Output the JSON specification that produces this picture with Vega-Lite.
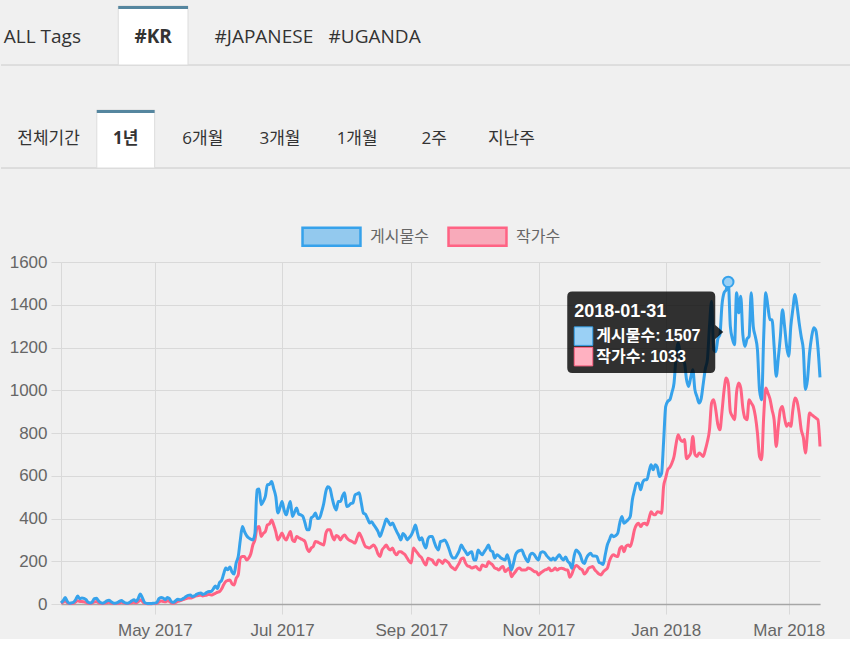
{
  "$schema": "https://vega.github.io/schema/vega-lite/v6.json",
  "background": "#f0f0f0",
  "padding": 0,
  "spacing": 57,
  "resolve": {"legend": {"color": "independent"}},
  "datasets": {
    "tabs1": [{"tab":"ALL Tags"},{"tab":"#KR"},{"tab":"#JAPANESE"},{"tab":"#UGANDA"}],
    "tabs2": [{"tab":"전체기간"},{"tab":"1년"},{"tab":"6개월"},{"tab":"3개월"},{"tab":"1개월"},{"tab":"2주"},{"tab":"지난주"}],
    "daily": [
{"d":"2017-03-17","게시물수":5,"작가수":3},{"d":"2017-03-18","게시물수":15,"작가수":8},{"d":"2017-03-19","게시물수":30,"작가수":15},{"d":"2017-03-20","게시물수":12,"작가수":6},{"d":"2017-03-21","게시물수":3,"작가수":2},{"d":"2017-03-22","게시물수":5,"작가수":2},{"d":"2017-03-23","게시물수":8,"작가수":4},{"d":"2017-03-24","게시물수":20,"작가수":10},{"d":"2017-03-25","게시물수":37,"작가수":15},{"d":"2017-03-26","게시물수":25,"작가수":12},{"d":"2017-03-27","게시물수":28,"작가수":12},{"d":"2017-03-28","게시물수":26,"작가수":10},{"d":"2017-03-29","게시물수":20,"작가수":8},{"d":"2017-03-30","게시물수":8,"작가수":3},{"d":"2017-03-31","게시물수":5,"작가수":2},
{"d":"2017-04-01","게시물수":10,"작가수":5},{"d":"2017-04-02","게시물수":25,"작가수":10},{"d":"2017-04-03","게시물수":27,"작가수":12},{"d":"2017-04-04","게시물수":15,"작가수":6},{"d":"2017-04-05","게시물수":6,"작가수":3},{"d":"2017-04-06","게시물수":4,"작가수":2},{"d":"2017-04-07","게시물수":8,"작가수":4},{"d":"2017-04-08","게시물수":15,"작가수":6},{"d":"2017-04-09","게시물수":18,"작가수":8},{"d":"2017-04-10","게시물수":10,"작가수":4},{"d":"2017-04-11","게시물수":5,"작가수":2},{"d":"2017-04-12","게시물수":4,"작가수":2},{"d":"2017-04-13","게시물수":6,"작가수":3},{"d":"2017-04-14","게시물수":12,"작가수":5},{"d":"2017-04-15","게시물수":16,"작가수":8},{"d":"2017-04-16","게시물수":10,"작가수":5},{"d":"2017-04-17","게시물수":5,"작가수":2},{"d":"2017-04-18","게시물수":4,"작가수":2},{"d":"2017-04-19","게시물수":8,"작가수":4},{"d":"2017-04-20","게시물수":15,"작가수":6},{"d":"2017-04-21","게시물수":20,"작가수":8},{"d":"2017-04-22","게시물수":12,"작가수":5},{"d":"2017-04-23","게시물수":25,"작가수":10},{"d":"2017-04-24","게시물수":47,"작가수":20},{"d":"2017-04-25","게시물수":30,"작가수":12},{"d":"2017-04-26","게시물수":8,"작가수":4},{"d":"2017-04-27","게시물수":3,"작가수":2},{"d":"2017-04-28","게시물수":2,"작가수":1},{"d":"2017-04-29","게시물수":2,"작가수":1},{"d":"2017-04-30","게시물수":3,"작가수":2},
{"d":"2017-05-01","게시물수":4,"작가수":2},{"d":"2017-05-02","게시물수":8,"작가수":4},{"d":"2017-05-03","게시물수":25,"작가수":10},{"d":"2017-05-04","게시물수":30,"작가수":14},{"d":"2017-05-05","게시물수":28,"작가수":12},{"d":"2017-05-06","게시물수":20,"작가수":10},{"d":"2017-05-07","게시물수":30,"작가수":15},{"d":"2017-05-08","게시물수":25,"작가수":12},{"d":"2017-05-09","게시물수":10,"작가수":5},{"d":"2017-05-10","게시물수":8,"작가수":4},{"d":"2017-05-11","게시물수":15,"작가수":8},{"d":"2017-05-12","게시물수":22,"작가수":12},{"d":"2017-05-13","게시물수":20,"작가수":15},{"d":"2017-05-14","게시물수":22,"작가수":18},{"d":"2017-05-15","게시물수":28,"작가수":22},{"d":"2017-05-16","게시물수":35,"작가수":25},{"d":"2017-05-17","게시물수":40,"작가수":28},{"d":"2017-05-18","게시물수":42,"작가수":28},{"d":"2017-05-19","게시물수":35,"작가수":30},{"d":"2017-05-20","게시물수":38,"작가수":35},{"d":"2017-05-21","게시물수":45,"작가수":38},{"d":"2017-05-22","게시물수":50,"작가수":40},{"d":"2017-05-23","게시물수":52,"작가수":42},{"d":"2017-05-24","게시물수":45,"작가수":38},{"d":"2017-05-25","게시물수":48,"작가수":40},{"d":"2017-05-26","게시물수":55,"작가수":42},{"d":"2017-05-27","게시물수":58,"작가수":45},{"d":"2017-05-28","게시물수":58,"작가수":42},{"d":"2017-05-29","게시물수":70,"작가수":45},{"d":"2017-05-30","게시물수":84,"작가수":50},{"d":"2017-05-31","게시물수":72,"작가수":55},
{"d":"2017-06-01","게시물수":100,"작가수":58},{"d":"2017-06-02","게시물수":110,"작가수":70},{"d":"2017-06-03","게시물수":140,"작가수":90},{"d":"2017-06-04","게시물수":168,"작가수":105},{"d":"2017-06-05","게시물수":160,"작가수":110},{"d":"2017-06-06","게시물수":173,"작가수":112},{"d":"2017-06-07","게시물수":150,"작가수":95},{"d":"2017-06-08","게시물수":140,"작가수":89},{"d":"2017-06-09","게시물수":192,"작가수":120},{"d":"2017-06-10","게시물수":222,"작가수":136},{"d":"2017-06-11","게시물수":300,"작가수":215},{"d":"2017-06-12","게시물수":362,"작가수":222},{"d":"2017-06-13","게시물수":339,"작가수":222},{"d":"2017-06-14","게시물수":320,"작가수":206},{"d":"2017-06-15","게시물수":309,"작가수":215},{"d":"2017-06-16","게시물수":304,"작가수":234},{"d":"2017-06-17","게시물수":300,"작가수":276},{"d":"2017-06-18","게시물수":330,"작가수":300},{"d":"2017-06-19","게시물수":534,"작가수":355},{"d":"2017-06-20","게시물수":538,"작가수":362},{"d":"2017-06-21","게시물수":464,"작가수":316},{"d":"2017-06-22","게시물수":480,"작가수":330},{"d":"2017-06-23","게시물수":503,"작가수":339},{"d":"2017-06-24","게시물수":558,"작가수":370},{"d":"2017-06-25","게시물수":560,"작가수":375},{"d":"2017-06-26","게시물수":573,"작가수":393},{"d":"2017-06-27","게시물수":540,"작가수":370},{"d":"2017-06-28","게시물수":503,"작가수":339},{"d":"2017-06-29","게시물수":426,"작가수":300},{"d":"2017-06-30","게시물수":450,"작가수":315},
{"d":"2017-07-01","게시물수":479,"작가수":332},{"d":"2017-07-02","게시물수":440,"작가수":310},{"d":"2017-07-03","게시물수":417,"작가수":300},{"d":"2017-07-04","게시물수":450,"작가수":320},{"d":"2017-07-05","게시물수":479,"작가수":339},{"d":"2017-07-06","게시물수":409,"작가수":300},{"d":"2017-07-07","게시물수":430,"작가수":292},{"d":"2017-07-08","게시물수":449,"작가수":316},{"d":"2017-07-09","게시물수":420,"작가수":310},{"d":"2017-07-10","게시물수":417,"작가수":305},{"d":"2017-07-11","게시물수":410,"작가수":300},{"d":"2017-07-12","게시물수":380,"작가수":292},{"d":"2017-07-13","게시물수":347,"작가수":260},{"d":"2017-07-14","게시물수":347,"작가수":245},{"d":"2017-07-15","게시물수":403,"작가수":262},{"d":"2017-07-16","게시물수":410,"작가수":269},{"d":"2017-07-17","게시물수":426,"작가수":292},{"d":"2017-07-18","게시물수":400,"작가수":290},{"d":"2017-07-19","게시물수":403,"작가수":285},{"d":"2017-07-20","게시물수":432,"작가수":280},{"d":"2017-07-21","게시물수":470,"작가수":276},{"d":"2017-07-22","게시물수":526,"작가수":330},{"d":"2017-07-23","게시물수":548,"작가수":347},{"d":"2017-07-24","게시물수":540,"작가수":347},{"d":"2017-07-25","게시물수":497,"작가수":320},{"d":"2017-07-26","게시물수":460,"작가수":300},{"d":"2017-07-27","게시물수":440,"작가수":320},{"d":"2017-07-28","게시물수":479,"작가수":315},{"d":"2017-07-29","게시물수":479,"작가수":300},{"d":"2017-07-30","게시물수":505,"작가수":315},{"d":"2017-07-31","게시물수":520,"작가수":323},
{"d":"2017-08-01","게시물수":456,"작가수":310},{"d":"2017-08-02","게시물수":460,"작가수":300},{"d":"2017-08-03","게시물수":470,"작가수":295},{"d":"2017-08-04","게시물수":473,"작가수":290},{"d":"2017-08-05","게시물수":510,"작가수":285},{"d":"2017-08-06","게시물수":515,"작가수":310},{"d":"2017-08-07","게시물수":520,"작가수":332},{"d":"2017-08-08","게시물수":473,"작가수":315},{"d":"2017-08-09","게시물수":426,"작가수":290},{"d":"2017-08-10","게시물수":420,"작가수":269},{"d":"2017-08-11","게시물수":400,"작가수":265},{"d":"2017-08-12","게시물수":379,"작가수":262},{"d":"2017-08-13","게시물수":385,"작가수":270},{"d":"2017-08-14","게시물수":370,"작가수":276},{"d":"2017-08-15","게시물수":356,"작가수":262},{"d":"2017-08-16","게시물수":340,"작가수":235},{"d":"2017-08-17","게시물수":316,"작가수":222},{"d":"2017-08-18","게시물수":340,"작가수":253},{"d":"2017-08-19","게시물수":370,"작가수":265},{"d":"2017-08-20","게시물수":398,"작가수":276},{"d":"2017-08-21","게시물수":385,"작가수":260},{"d":"2017-08-22","게시물수":370,"작가수":253},{"d":"2017-08-23","게시물수":379,"작가수":262},{"d":"2017-08-24","게시물수":360,"작가수":240},{"d":"2017-08-25","게시물수":339,"작가수":230},{"d":"2017-08-26","게시물수":320,"작가수":245},{"d":"2017-08-27","게시물수":300,"작가수":245},{"d":"2017-08-28","게시물수":330,"작가수":238},{"d":"2017-08-29","게시물수":320,"작가수":230},{"d":"2017-08-30","게시물수":300,"작가수":215},{"d":"2017-08-31","게시물수":310,"작가수":200},
{"d":"2017-09-01","게시물수":323,"작가수":192},{"d":"2017-09-02","게시물수":345,"작가수":262},{"d":"2017-09-03","게시물수":370,"작가수":250},{"d":"2017-09-04","게시물수":330,"작가수":238},{"d":"2017-09-05","게시물수":300,"작가수":225},{"d":"2017-09-06","게시물수":310,"작가수":215},{"d":"2017-09-07","게시물수":280,"작가수":195},{"d":"2017-09-08","게시물수":262,"작가수":183},{"d":"2017-09-09","게시물수":305,"작가수":214},{"d":"2017-09-10","게시물수":316,"작가수":210},{"d":"2017-09-11","게시물수":316,"작가수":206},{"d":"2017-09-12","게시물수":290,"작가수":190},{"d":"2017-09-13","게시물수":265,"작가수":183},{"d":"2017-09-14","게시물수":253,"작가수":206},{"d":"2017-09-15","게시물수":292,"작가수":200},{"d":"2017-09-16","게시물수":295,"작가수":190},{"d":"2017-09-17","게시물수":300,"작가수":206},{"d":"2017-09-18","게시물수":285,"작가수":200},{"d":"2017-09-19","게시물수":260,"작가수":191},{"d":"2017-09-20","게시물수":230,"작가수":175},{"d":"2017-09-21","게시물수":215,"작가수":168},{"d":"2017-09-22","게시물수":215,"작가수":160},{"d":"2017-09-23","게시물수":230,"작가수":175},{"d":"2017-09-24","게시물수":250,"작가수":191},{"d":"2017-09-25","게시물수":276,"작가수":212},{"d":"2017-09-26","게시물수":260,"작가수":215},{"d":"2017-09-27","게시물수":245,"작가수":191},{"d":"2017-09-28","게시물수":230,"작가수":178},{"d":"2017-09-29","게시물수":240,"작가수":175},{"d":"2017-09-30","게시물수":245,"작가수":168},
{"d":"2017-10-01","게시물수":206,"작가수":172},{"d":"2017-10-02","게시물수":206,"작가수":175},{"d":"2017-10-03","게시물수":253,"작가수":165},{"d":"2017-10-04","게시물수":240,"작가수":159},{"d":"2017-10-05","게시물수":230,"작가수":183},{"d":"2017-10-06","게시물수":245,"작가수":178},{"d":"2017-10-07","게시물수":260,"작가수":175},{"d":"2017-10-08","게시물수":276,"작가수":198},{"d":"2017-10-09","게시물수":250,"작가수":190},{"d":"2017-10-10","게시물수":245,"작가수":183},{"d":"2017-10-11","게시물수":215,"작가수":168},{"d":"2017-10-12","게시물수":230,"작가수":165},{"d":"2017-10-13","게시물수":225,"작가수":159},{"d":"2017-10-14","게시물수":215,"작가수":170},{"d":"2017-10-15","게시물수":210,"작가수":175},{"d":"2017-10-16","게시물수":206,"작가수":152},{"d":"2017-10-17","게시물수":230,"작가수":160},{"d":"2017-10-18","게시물수":200,"작가수":168},{"d":"2017-10-19","게시물수":159,"작가수":128},{"d":"2017-10-20","게시물수":190,"작가수":140},{"d":"2017-10-21","게시물수":230,"작가수":152},{"d":"2017-10-22","게시물수":245,"작가수":165},{"d":"2017-10-23","게시물수":250,"작가수":168},{"d":"2017-10-24","게시물수":253,"작가수":159},{"d":"2017-10-25","게시물수":230,"작가수":159},{"d":"2017-10-26","게시물수":210,"작가수":160},{"d":"2017-10-27","게시물수":198,"작가수":168},{"d":"2017-10-28","게시물수":230,"작가수":165},{"d":"2017-10-29","게시물수":237,"작가수":159},{"d":"2017-10-30","게시물수":230,"작가수":152},{"d":"2017-10-31","게시물수":215,"작가수":150},
{"d":"2017-11-01","게시물수":206,"작가수":136},{"d":"2017-11-02","게시물수":240,"작가수":145},{"d":"2017-11-03","게시물수":245,"작가수":152},{"d":"2017-11-04","게시물수":240,"작가수":159},{"d":"2017-11-05","게시물수":225,"작가수":162},{"d":"2017-11-06","게시물수":215,"작가수":168},{"d":"2017-11-07","게시물수":206,"작가수":155},{"d":"2017-11-08","게시물수":215,"작가수":159},{"d":"2017-11-09","게시물수":206,"작가수":168},{"d":"2017-11-10","게시물수":220,"작가수":159},{"d":"2017-11-11","게시물수":230,"작가수":165},{"d":"2017-11-12","게시물수":215,"작가수":167},{"d":"2017-11-13","게시물수":206,"작가수":165},{"d":"2017-11-14","게시물수":220,"작가수":160},{"d":"2017-11-15","게시물수":200,"작가수":159},{"d":"2017-11-16","게시물수":190,"작가수":125},{"d":"2017-11-17","게시물수":167,"작가수":140},{"d":"2017-11-18","게시물수":220,"작가수":167},{"d":"2017-11-19","게시물수":253,"작가수":180},{"d":"2017-11-20","게시물수":245,"작가수":175},{"d":"2017-11-21","게시물수":230,"작가수":165},{"d":"2017-11-22","게시물수":200,"작가수":159},{"d":"2017-11-23","게시물수":190,"작가수":140},{"d":"2017-11-24","게시물수":215,"작가수":150},{"d":"2017-11-25","게시물수":230,"작가수":167},{"d":"2017-11-26","게시물수":237,"작가수":172},{"d":"2017-11-27","게시물수":225,"작가수":175},{"d":"2017-11-28","게시물수":225,"작가수":160},{"d":"2017-11-29","게시물수":222,"작가수":150},{"d":"2017-11-30","게시물수":195,"작가수":140},
{"d":"2017-12-01","게시물수":191,"작가수":136},{"d":"2017-12-02","게시물수":185,"작가수":150},{"d":"2017-12-03","게시물수":230,"작가수":159},{"d":"2017-12-04","게시물수":276,"작가수":167},{"d":"2017-12-05","게시물수":300,"작가수":200},{"d":"2017-12-06","게시물수":323,"작가수":222},{"d":"2017-12-07","게시물수":315,"작가수":230},{"d":"2017-12-08","게시물수":320,"작가수":225},{"d":"2017-12-09","게시물수":331,"작가수":222},{"d":"2017-12-10","게시물수":380,"작가수":260},{"d":"2017-12-11","게시물수":409,"작가수":269},{"d":"2017-12-12","게시물수":378,"작가수":245},{"d":"2017-12-13","게시물수":385,"작가수":270},{"d":"2017-12-14","게시물수":395,"작가수":276},{"d":"2017-12-15","게시물수":409,"작가수":269},{"d":"2017-12-16","게시물수":487,"작가수":300},{"d":"2017-12-17","게시물수":530,"작가수":347},{"d":"2017-12-18","게시물수":565,"작가수":370},{"d":"2017-12-19","게시물수":565,"작가수":378},{"d":"2017-12-20","게시물수":534,"작가수":362},{"d":"2017-12-21","게시물수":570,"작가수":375},{"d":"2017-12-22","게시물수":581,"작가수":378},{"d":"2017-12-23","게시물수":581,"작가수":370},{"d":"2017-12-24","게시물수":620,"작가수":400},{"d":"2017-12-25","게시물수":651,"작가수":432},{"d":"2017-12-26","게시물수":628,"작가수":420},{"d":"2017-12-27","게시물수":651,"작가수":417},{"d":"2017-12-28","게시물수":640,"작가수":432},{"d":"2017-12-29","게시물수":596,"작가수":430},{"d":"2017-12-30","게시물수":610,"작가수":424},{"d":"2017-12-31","게시물수":760,"작가수":550},
{"d":"2018-01-01","게시물수":924,"작가수":590},{"d":"2018-01-02","게시물수":948,"작가수":628},{"d":"2018-01-03","게시물수":956,"작가수":640},{"d":"2018-01-04","게시물수":990,"작가수":660},{"d":"2018-01-05","게시물수":1034,"작가수":690},{"d":"2018-01-06","게시물수":1160,"작가수":750},{"d":"2018-01-07","게시물수":1221,"작가수":792},{"d":"2018-01-08","게시물수":1175,"작가수":770},{"d":"2018-01-09","게시물수":1140,"작가수":760},{"d":"2018-01-10","게시물수":1128,"작가수":770},{"d":"2018-01-11","게시물수":1049,"작가수":680},{"d":"2018-01-12","게시물수":1018,"작가수":690},{"d":"2018-01-13","게시물수":1060,"작가수":706},{"d":"2018-01-14","게시물수":1096,"작가수":784},{"d":"2018-01-15","게시물수":1003,"작가수":700},{"d":"2018-01-16","게시물수":970,"작가수":690},{"d":"2018-01-17","게시물수":940,"작가수":706},{"d":"2018-01-18","게시물수":960,"작가수":700},{"d":"2018-01-19","게시물수":1030,"작가수":690},{"d":"2018-01-20","게시물수":1100,"작가수":721},{"d":"2018-01-21","게시물수":1143,"작가수":760},{"d":"2018-01-22","게시물수":1300,"작가수":815},{"d":"2018-01-23","게시물수":1416,"작가수":940},{"d":"2018-01-24","게시물수":1190,"작가수":956},{"d":"2018-01-25","게시물수":1180,"작가수":909},{"d":"2018-01-26","게시물수":1240,"작가수":840},{"d":"2018-01-27","게시물수":1260,"작가수":815},{"d":"2018-01-28","게시물수":1400,"작가수":900},{"d":"2018-01-29","게시물수":1456,"작가수":1000},{"d":"2018-01-30","게시물수":1470,"작가수":1057},{"d":"2018-01-31","게시물수":1507,"작가수":1033},
{"d":"2018-02-01","게시물수":1299,"작가수":900},{"d":"2018-02-02","게시물수":1240,"작가수":878},{"d":"2018-02-03","게시물수":1213,"작가수":862},{"d":"2018-02-04","게시물수":1456,"작가수":990},{"d":"2018-02-05","게시물수":1362,"작가수":1034},{"d":"2018-02-06","게시물수":1440,"작가수":1010},{"d":"2018-02-07","게시물수":1260,"작가수":917},{"d":"2018-02-08","게시물수":1205,"작가수":870},{"d":"2018-02-09","게시물수":1240,"작가수":862},{"d":"2018-02-10","게시물수":1252,"작가수":956},{"d":"2018-02-11","게시물수":1456,"작가수":940},{"d":"2018-02-12","게시물수":1299,"작가수":924},{"d":"2018-02-13","게시물수":1250,"작가수":878},{"d":"2018-02-14","게시물수":1190,"작가수":800},{"d":"2018-02-15","게시물수":1000,"작가수":690},{"d":"2018-02-16","게시물수":956,"작가수":675},{"d":"2018-02-17","게시물수":1252,"작가수":878},{"d":"2018-02-18","게시물수":1456,"작가수":1011},{"d":"2018-02-19","게시물수":1393,"작가수":987},{"d":"2018-02-20","게시물수":1330,"작가수":960},{"d":"2018-02-21","게시물수":1330,"작가수":909},{"d":"2018-02-22","게시물수":1205,"작가수":862},{"d":"2018-02-23","게시물수":1065,"작가수":737},{"d":"2018-02-24","게시물수":1150,"작가수":830},{"d":"2018-02-25","게시물수":1252,"작가수":909},{"d":"2018-02-26","게시물수":1377,"작가수":924},{"d":"2018-02-27","게시물수":1300,"작가수":870},{"d":"2018-02-28","게시물수":1205,"작가수":831},
{"d":"2018-03-01","게시물수":1159,"작가수":846},{"d":"2018-03-02","게시물수":1299,"작가수":831},{"d":"2018-03-03","게시물수":1380,"작가수":909},{"d":"2018-03-04","게시물수":1448,"작가수":964},{"d":"2018-03-05","게시물수":1393,"작가수":948},{"d":"2018-03-06","게시물수":1315,"작가수":893},{"d":"2018-03-07","게시물수":1250,"작가수":815},{"d":"2018-03-08","게시물수":1190,"작가수":780},{"d":"2018-03-09","게시물수":1003,"작가수":706},{"d":"2018-03-10","게시물수":1050,"작가수":800},{"d":"2018-03-11","게시물수":1175,"작가수":893},{"d":"2018-03-12","게시물수":1250,"작가수":885},{"d":"2018-03-13","게시물수":1292,"작가수":878},{"d":"2018-03-14","게시물수":1280,"작가수":870},{"d":"2018-03-15","게시물수":1200,"작가수":862},{"d":"2018-03-16","게시물수":1060,"작가수":737}
    ]
  },
  "vconcat": [
    {
      "spacing": 0,
      "vconcat": [
        {
          "width": 790, "height": 65,
          "data": {"name": "tabs1"},
          "resolve": {"scale": {"x": "independent"}},
          "layer": [
            {"mark": {"type": "rule", "color": "#dcdcdc", "strokeWidth": 1},
             "encoding": {
               "x": {"datum": 0, "scale": {"domain": [0, 1], "range": [-60, 790], "nice": false, "zero": false}, "axis": null},
               "x2": {"datum": 1},
               "y": {"datum": 0, "scale": {"domain": [0, 1], "nice": false, "zero": false}, "axis": null}}},
            {"layer": [
              {"transform": [{"filter": "datum.tab == '#KR'"}],
               "mark": {"type": "bar", "fill": "#ffffff", "stroke": "#dcdcdc", "strokeWidth": 1, "width": {"band": 0.63}},
               "encoding": {
                 "x": {"field": "tab", "type": "nominal", "scale": {"domain": ["ALL Tags", "#KR", "#JAPANESE", "#UGANDA"], "range": [-74, 369], "paddingInner": 0, "paddingOuter": 0}, "axis": null},
                 "y": {"datum": 0.908, "scale": {"domain": [0, 1], "nice": false, "zero": false}, "axis": null},
                 "y2": {"datum": 0}}},
              {"transform": [{"filter": "datum.tab == '#KR'"}],
               "mark": {"type": "bar", "fill": "#55869f", "width": {"band": 0.63}},
               "encoding": {
                 "x": {"field": "tab", "type": "nominal", "axis": null},
                 "y": {"datum": 0.908, "axis": null},
                 "y2": {"datum": 0.862}}},
              {"transform": [{"filter": "datum.tab != '#KR'"}],
               "mark": {"type": "text", "font": "'Open Sans', 'Noto Sans CJK KR', sans-serif", "fontSize": 19, "color": "#333333", "baseline": "middle"},
               "encoding": {
                 "x": {"field": "tab", "type": "nominal", "axis": null},
                 "y": {"datum": 0.43, "axis": null},
                 "text": {"field": "tab"}}},
              {"transform": [{"filter": "datum.tab == '#KR'"}],
               "mark": {"type": "text", "font": "'Open Sans', 'Noto Sans CJK KR', sans-serif", "fontSize": 19, "fontWeight": "bold", "color": "#333333", "baseline": "middle"},
               "encoding": {
                 "x": {"field": "tab", "type": "nominal", "axis": null},
                 "y": {"datum": 0.43, "axis": null},
                 "text": {"field": "tab"}}}
            ]}
          ]
        },
        {
          "width": 790, "height": 102,
          "data": {"name": "tabs2"},
          "resolve": {"scale": {"x": "independent"}},
          "layer": [
            {"mark": {"type": "rule", "color": "#dcdcdc", "strokeWidth": 1},
             "encoding": {
               "x": {"datum": 0, "scale": {"domain": [0, 1], "range": [-60, 790], "nice": false, "zero": false}, "axis": null},
               "x2": {"datum": 1},
               "y": {"datum": 0, "scale": {"domain": [0, 1], "nice": false, "zero": false}, "axis": null}}},
            {"layer": [
              {"transform": [{"filter": "datum.tab == '1년'"}],
               "mark": {"type": "bar", "fill": "#ffffff", "stroke": "#dcdcdc", "strokeWidth": 1, "width": {"band": 0.75}},
               "encoding": {
                 "x": {"field": "tab", "type": "nominal", "scale": {"domain": ["전체기간", "1년", "6개월", "3개월", "1개월", "2주", "지난주"], "range": [-51, 489], "paddingInner": 0, "paddingOuter": 0}, "axis": null},
                 "y": {"datum": 0.569, "scale": {"domain": [0, 1], "nice": false, "zero": false}, "axis": null},
                 "y2": {"datum": 0}}},
              {"transform": [{"filter": "datum.tab == '1년'"}],
               "mark": {"type": "bar", "fill": "#55869f", "width": {"band": 0.75}},
               "encoding": {
                 "x": {"field": "tab", "type": "nominal", "axis": null},
                 "y": {"datum": 0.569, "axis": null},
                 "y2": {"datum": 0.539}}},
              {"transform": [{"filter": "datum.tab != '1년'"}],
               "mark": {"type": "text", "font": "'Open Sans', 'Noto Sans CJK KR', sans-serif", "fontSize": 17, "color": "#333333", "baseline": "middle"},
               "encoding": {
                 "x": {"field": "tab", "type": "nominal", "axis": null},
                 "y": {"datum": 0.284, "axis": null},
                 "text": {"field": "tab"}}},
              {"transform": [{"filter": "datum.tab == '1년'"}],
               "mark": {"type": "text", "font": "'Open Sans', 'Noto Sans CJK KR', sans-serif", "fontSize": 17, "fontWeight": "bold", "color": "#333333", "baseline": "middle"},
               "encoding": {
                 "x": {"field": "tab", "type": "nominal", "axis": null},
                 "y": {"datum": 0.284, "axis": null},
                 "text": {"field": "tab"}}}
            ]}
          ]
        }
      ]
    },
    {
      "width": 759, "height": 342,
      "data": {"name": "daily"},
      "encoding": {
        "x": {"field": "d", "type": "temporal", "title": null,
              "scale": {"type": "utc", "nice": false},
              "axis": {"format": "%b %Y", "tickCount": {"interval": "month", "step": 2}}}
      },
      "layer": [
        {"transform": [{"fold": ["게시물수", "작가수"], "as": ["series", "count"]}, {"filter": "datum.series == '작가수'"}],
         "mark": {"type": "line", "interpolate": "monotone", "strokeWidth": 3},
         "encoding": {
           "y": {"field": "count", "type": "quantitative", "title": null, "scale": {"domain": [0, 1600], "nice": false}, "axis": {"format": "d"}},
           "color": {"field": "series", "type": "nominal", "title": null,
                     "scale": {"domain": ["게시물수", "작가수"], "range": ["#36a2eb", "#ff6384"]},
                     "legend": {"labelExpr": "datum.value == '작가수' ? datum.label + '\u00a0\u00a0\u00a0\u00a0\u00a0' : datum.label",
                                "encode": {"symbols": {"update": {"fill": {"scale": "color", "field": "value"}, "fillOpacity": {"value": 0.5}, "stroke": {"scale": "color", "field": "value"}, "strokeWidth": {"value": 2.5}}}}}}}},
        {"transform": [{"fold": ["게시물수", "작가수"], "as": ["series", "count"]}, {"filter": "datum.series == '게시물수'"}],
         "mark": {"type": "line", "interpolate": "monotone", "strokeWidth": 3},
         "encoding": {
           "y": {"field": "count", "type": "quantitative", "title": null},
           "color": {"field": "series", "type": "nominal", "title": null}}},
        {"transform": [{"filter": "utcyear(datum.d) == 2018 && utcmonth(datum.d) == 0 && utcdate(datum.d) == 31"}],
         "mark": {"type": "point", "filled": true, "size": 110, "fill": "#9ad0f5", "stroke": "#36a2eb", "strokeWidth": 2, "opacity": 1},
         "encoding": {"y": {"field": "게시물수", "type": "quantitative", "title": null}}},
        {"transform": [{"filter": "utcyear(datum.d) == 2018 && utcmonth(datum.d) == 0 && utcdate(datum.d) == 31"}],
         "mark": {"type": "point", "shape": "M-156,9.5H-18Q-13,9.5 -13,14.5V43L-5,50L-13,57V86Q-13,91 -18,91H-156Q-161,91 -161,86V14.5Q-161,9.5 -156,9.5Z", "size": 4, "filled": true, "fill": "#000000", "fillOpacity": 0.8, "strokeWidth": 0, "opacity": 1},
         "encoding": {"y": {"field": "게시물수", "type": "quantitative", "title": null}}},
        {"transform": [{"filter": "utcyear(datum.d) == 2018 && utcmonth(datum.d) == 0 && utcdate(datum.d) == 31"}],
         "mark": {"type": "point", "shape": "M-154,45H-135.5V63.5H-154Z", "size": 4, "filled": true, "fill": "#9ad0f5", "stroke": "#36a2eb", "strokeWidth": 1, "opacity": 1},
         "encoding": {"y": {"field": "게시물수", "type": "quantitative", "title": null}}},
        {"transform": [{"filter": "utcyear(datum.d) == 2018 && utcmonth(datum.d) == 0 && utcdate(datum.d) == 31"}],
         "mark": {"type": "point", "shape": "M-154,65.5H-135.5V84H-154Z", "size": 4, "filled": true, "fill": "#ffb1c1", "stroke": "#ff6384", "strokeWidth": 1, "opacity": 1},
         "encoding": {"y": {"field": "게시물수", "type": "quantitative", "title": null}}},
        {"transform": [{"filter": "utcyear(datum.d) == 2018 && utcmonth(datum.d) == 0 && utcdate(datum.d) == 31"}],
         "mark": {"type": "text", "align": "left", "baseline": "middle", "dx": -154, "dy": 30, "font": "'Liberation Sans', 'Noto Sans CJK KR', sans-serif", "fontSize": 18, "fontWeight": "bold", "color": "#ffffff"},
         "encoding": {
           "y": {"field": "게시물수", "type": "quantitative", "title": null},
           "text": {"field": "d", "type": "temporal", "timeUnit": "utcyearmonthdate", "format": "%Y-%m-%d"}}},
        {"transform": [{"filter": "utcyear(datum.d) == 2018 && utcmonth(datum.d) == 0 && utcdate(datum.d) == 31"}, {"calculate": "'게시물수: ' + datum['게시물수']", "as": "t1"}],
         "mark": {"type": "text", "align": "left", "baseline": "middle", "dx": -132, "dy": 54.5, "font": "'Liberation Sans', 'Noto Sans CJK KR', sans-serif", "fontSize": 16, "fontWeight": "bold", "color": "#ffffff"},
         "encoding": {
           "y": {"field": "게시물수", "type": "quantitative", "title": null},
           "text": {"field": "t1", "type": "nominal"}}},
        {"transform": [{"filter": "utcyear(datum.d) == 2018 && utcmonth(datum.d) == 0 && utcdate(datum.d) == 31"}, {"calculate": "'작가수: ' + datum['작가수']", "as": "t2"}],
         "mark": {"type": "text", "align": "left", "baseline": "middle", "dx": -132, "dy": 75.5, "font": "'Liberation Sans', 'Noto Sans CJK KR', sans-serif", "fontSize": 16, "fontWeight": "bold", "color": "#ffffff"},
         "encoding": {
           "y": {"field": "게시물수", "type": "quantitative", "title": null},
           "text": {"field": "t2", "type": "nominal"}}}
      ]
    }
  ],
  "config": {
    "view": {"stroke": null},
    "font": "Liberation Sans",
    "axis": {"labelFont": "Liberation Sans", "labelFontSize": 17, "labelColor": "#666666", "gridColor": "#d9d9d9", "tickColor": "#d9d9d9", "tickSize": 10, "gridWidth": 1},
    "axisX": {"domainColor": "#a6a6a6", "domainWidth": 1.5, "labelPadding": 8.5, "labelFlush": false, "labelOverlap": false},
    "axisY": {"domainColor": "#d9d9d9", "labelPadding": 4, "tickCount": 8, "minExtent": 60},
    "legend": {
      "orient": "top", "direction": "horizontal",
      "symbolType": "M-3.22,-1H3.22V1H-3.22Z", "symbolSize": 324, "symbolStrokeWidth": 2.5, "symbolOpacity": 1,
      "labelFont": "'Liberation Sans', 'Noto Sans CJK KR', sans-serif", "labelFontSize": 16, "labelColor": "#666666",
      "labelOffset": 28, "columnPadding": 14, "offset": 11.5, "padding": 0,
      "layout": {"top": {"anchor": "middle"}}
    }
  }
}
